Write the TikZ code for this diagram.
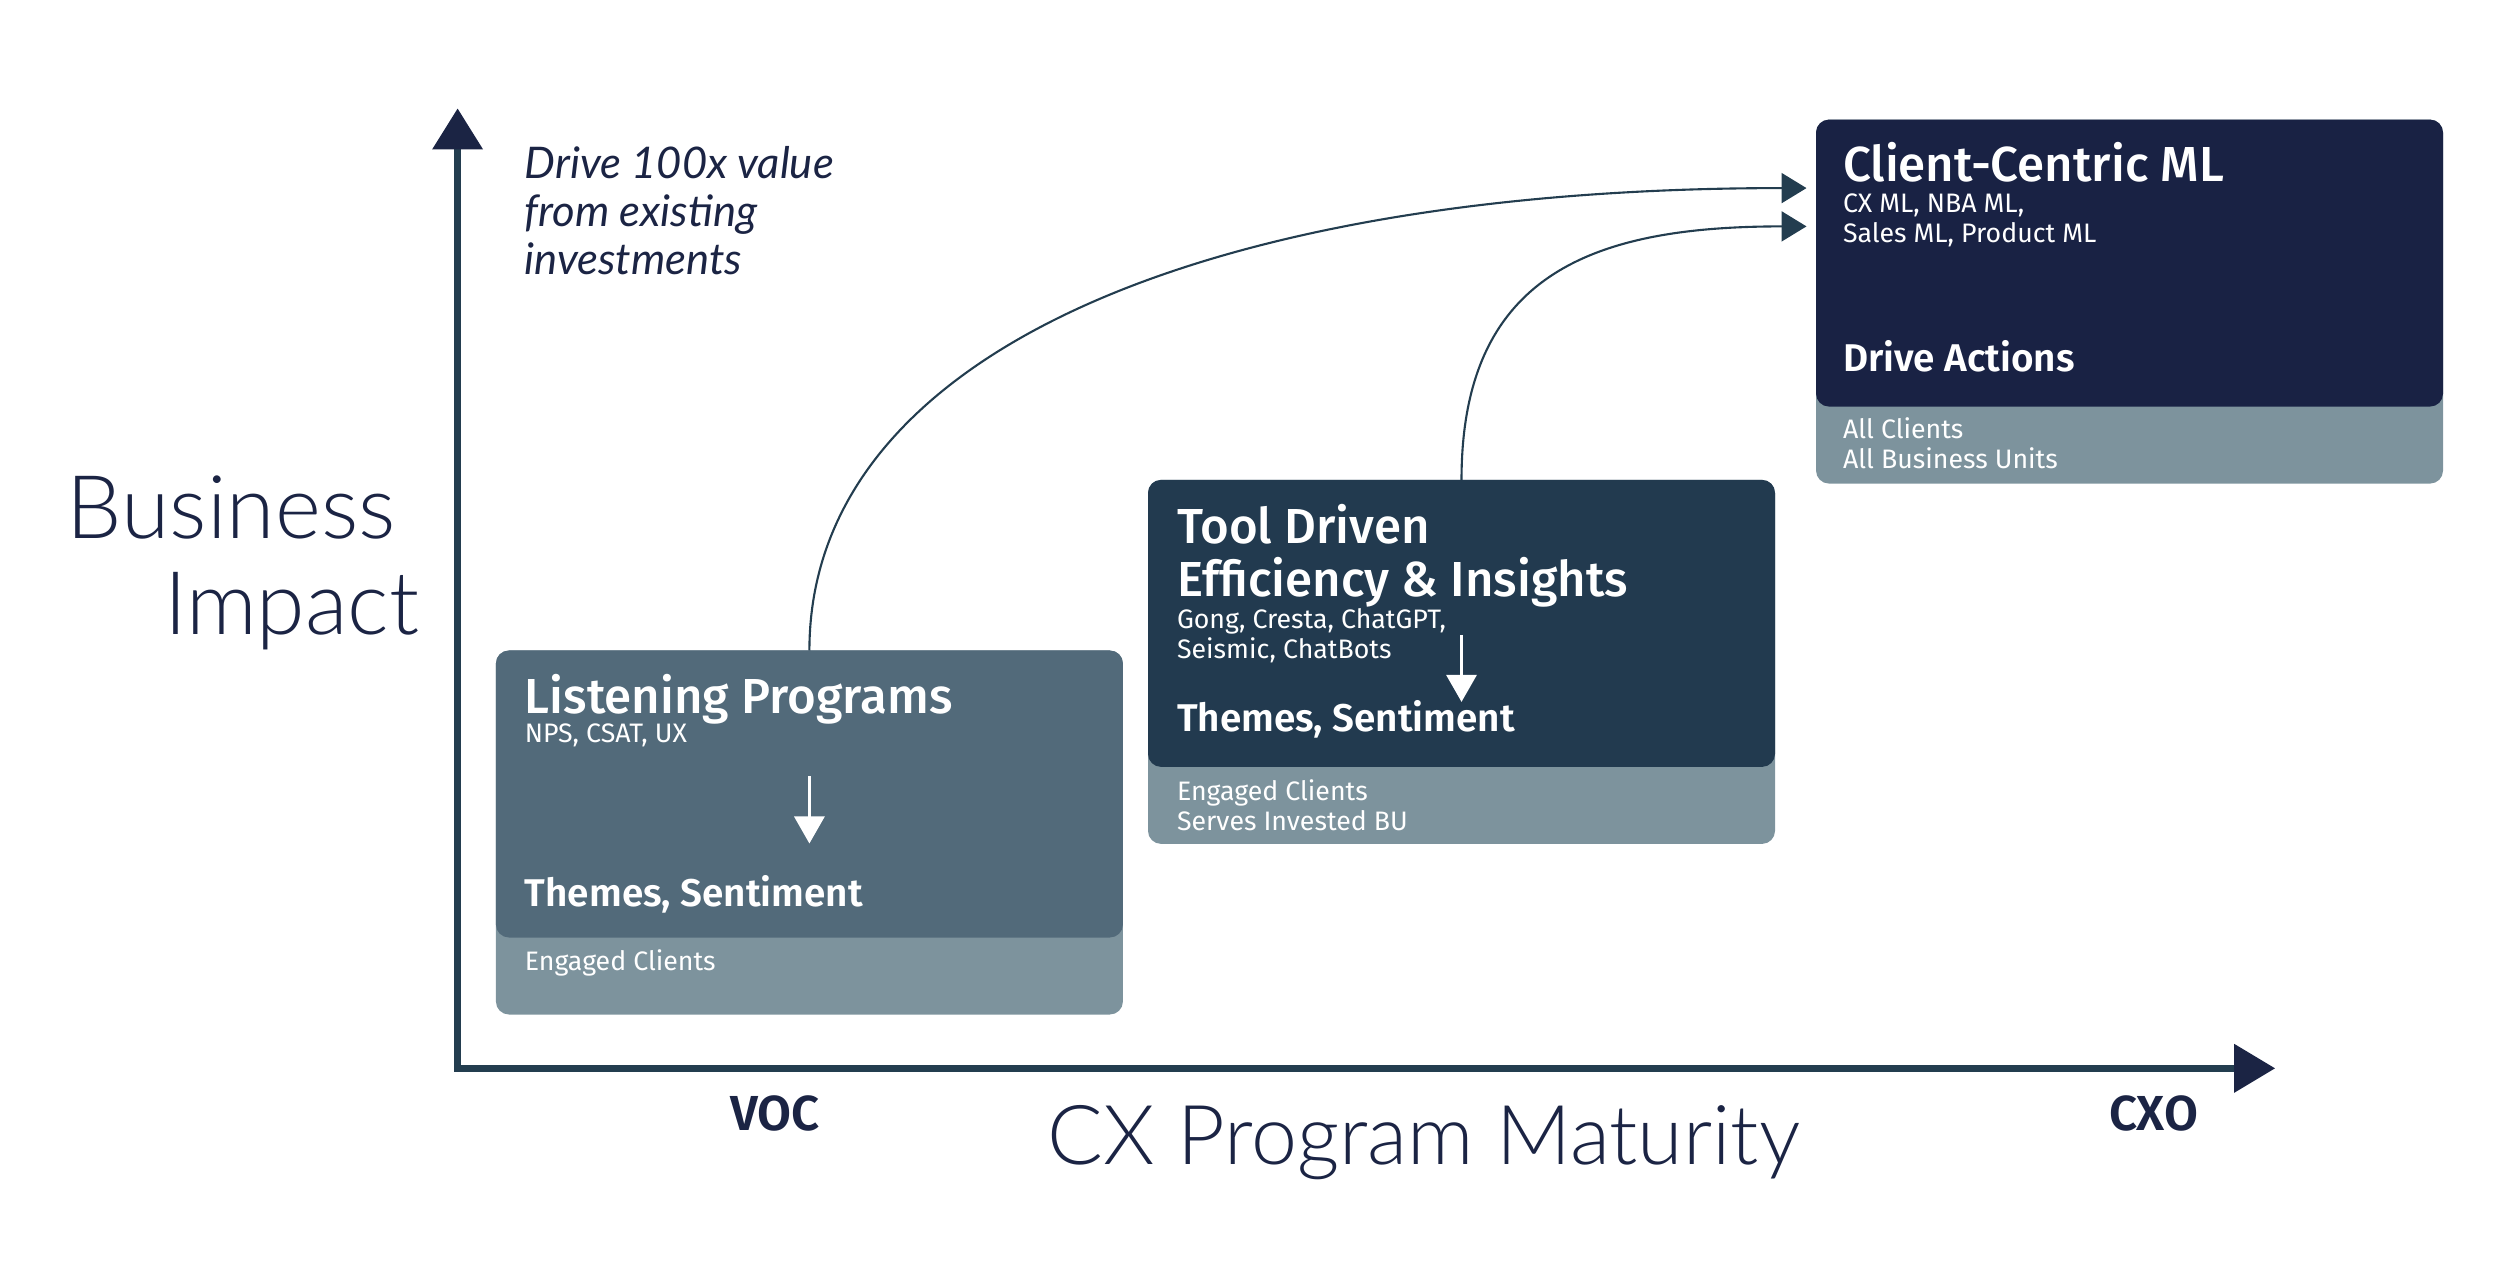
\documentclass[tikz,border=0pt]{standalone}
\usepackage{fontspec}
\setmainfont{Fira Sans}
\newfontfamily\lightfont{Lato Light}
\newfontfamily\medfont{Fira Sans Medium}
\newfontfamily\semifont{Fira Sans SemiBold}
\newfontfamily\notefont{Lato}
\usetikzlibrary{arrows.meta, calc, positioning}

\definecolor{navy}{HTML}{1B2444}
\definecolor{axisteal}{HTML}{233D4F}
\definecolor{slate}{HTML}{526A7A}
\definecolor{deepteal}{HTML}{223A4F}
\definecolor{midnight}{HTML}{192244}
\definecolor{mist}{HTML}{7D939D}

\begin{document}
\begin{tikzpicture}[
    every node/.style={inner sep=0pt, outer sep=0pt},
    axisline/.style={axisteal, line width=2pt, line join=miter},
    footpanel/.style={fill=mist, rounded corners=1.3mm, minimum width=6.27cm,
                      minimum height=3.64cm, anchor=north west},
    panel/.style={rounded corners=1.3mm, minimum width=6.27cm,
                  minimum height=2.87cm, anchor=north west},
    % multi-line texts sit on the baseline of their last line
    boxtitle/.style={font=\medfont\fontsize{14}{15.3}\selectfont, text=white,
                     anchor=base west, align=left},
    boxsub/.style={font=\fontsize{7.6}{8.6}\selectfont, text=white,
                   anchor=base west, align=left},
    boxresult/.style={font=\semifont\fontsize{11}{12}\selectfont, text=white,
                      anchor=base west},
    flow/.style={white, line width=0.9pt, -{Triangle[length=2.7mm, width=3mm]}},
    link/.style={axisteal, line width=0.6pt, -{Triangle[length=2.5mm, width=3mm]}},
    bigaxis/.style={font=\lightfont\fontsize{25}{28}\selectfont, text=navy, anchor=base west},
    stage/.style={font=\semifont\fontsize{14}{15}\selectfont, text=navy, anchor=base west},
]
\useasboundingbox (0,0) rectangle (25,12.64);

% axes
\coordinate (origin) at (4.576,1.957);
\coordinate (ytop) at (4.576,11.556);
\coordinate (xend) at (22.752,1.957);
\draw[axisline, {Triangle[length=4.1mm, width=4.9mm, color=navy]}-{Triangle[length=4.1mm, width=4.7mm, color=navy]}]
    (ytop) -- (origin) -- (xend);

% axis labels
\node[bigaxis] (biz) at (0.67,7.25) {Business};
\node[bigaxis] (impact) at (1.64,6.29) {Impact};
\node[bigaxis, font=\lightfont\fontsize{23.5}{28}\selectfont] (maturity) at (10.475,1.0) {CX Program Maturity};
\node[stage] (voc) at (7.30,1.336) {VOC};
\node[stage] (cxo) at (21.09,1.336) {CXO};
\node[font=\notefont\itshape\fontsize{12.4}{13.6}\selectfont, text=navy, anchor=base west,
      align=left] (note) at (5.246,9.898)
   {Drive 100x value\\from existing\\investments};

% stage 1: listening programs
\node[footpanel] (lpfoot) at (4.959,6.135) {};
\node[panel, fill=slate] (lp) at (4.959,6.135) {};
\node[boxtitle] (lptitle) at ($(lp.north west)+(0.29,-0.63)$) {Listening Programs};
\node[boxsub] (lptools) at ($(lp.north west)+(0.29,-0.925)$) {NPS, CSAT, UX};
\node[boxresult] (lpres) at ($(lp.north west)+(0.29,-2.56)$) {Themes, Sentiment};
\node[boxsub] (lpreach) at ($(lp.north west)+(0.29,-3.20)$) {Engaged Clients};
\coordinate (lpfrom) at ($(lp.north)+(0,-1.26)$);
\draw[flow] (lpfrom) -- ++(0,-0.67);

% stage 2: tool driven
\node[footpanel] (tdfoot) at (11.48,7.841) {};
\node[panel, fill=deepteal] (td) at (11.48,7.841) {};
\node[boxtitle] (tdtitle) at ($(td.north west)+(0.29,-1.17)$) {Tool Driven\\Efficiency \& Insights};
\node[boxsub] (tdtools) at ($(td.north west)+(0.29,-1.786)$) {Gong, Cresta, ChatGPT,\\Seismic, ChatBots};
\node[boxresult] (tdres) at ($(td.north west)+(0.29,-2.52)$) {Themes, Sentiment};
\node[boxsub] (tdreach) at ($(td.north west)+(0.29,-3.508)$) {Engaged Clients\\Serves Invested BU};
\coordinate (tdfrom) at ($(td.north)+(0,-1.55)$);
\draw[flow] (tdfrom) -- ++(0,-0.67);

% stage 3: client-centric ML
\node[footpanel] (ccfoot) at (18.16,11.444) {};
\node[panel, fill=midnight] (cc) at (18.16,11.444) {};
\node[boxtitle] (cctitle) at ($(cc.north west)+(0.27,-0.62)$) {Client-Centric ML};
\node[boxsub] (cctools) at ($(cc.north west)+(0.27,-1.227)$) {CX ML, NBA ML,\\Sales ML, Product ML};
\node[boxresult] (ccres) at ($(cc.north west)+(0.27,-2.52)$) {Drive Actions};
\node[boxsub] (ccreach) at ($(cc.north west)+(0.27,-3.492)$) {All Clients\\All Business Units};

% jumps towards client-centric ML
\coordinate (ccin1) at ($(cc.north west)+(-0.095,-0.685)$);
\coordinate (ccin2) at ($(cc.north west)+(-0.095,-1.068)$);
\draw[link] (lp.north) .. controls +(0,3.0) and +(-5.95,0) .. (ccin1);
\draw[link] (td.north) .. controls +(0,2.07) and +(-2.12,0) .. (ccin2);
\end{tikzpicture}
\end{document}
